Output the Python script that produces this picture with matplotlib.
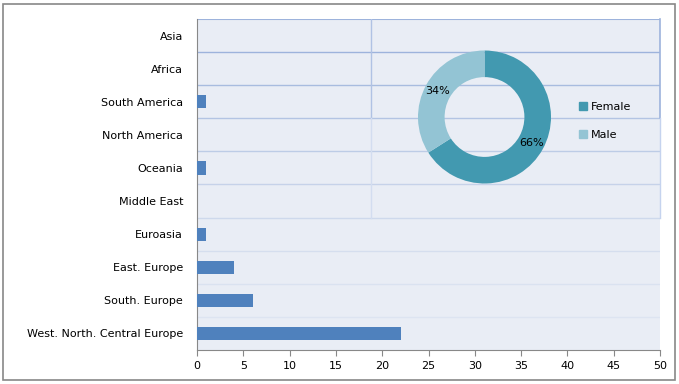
import numpy as np
import matplotlib.pyplot as plt
from matplotlib.patches import Rectangle

regions = ["West. North. Central Europe", "South. Europe", "East. Europe", "Euroasia",
           "Middle East", "Oceania", "North America", "South America", "Africa", "Asia"]
counts = [22, 6, 4, 1, 0, 1, 0, 1, 0, 0]

genders = ["Female", "Male"]
gender_share = [66, 34]
gender_colors = ["#4299b0", "#93c4d4"]

W, H = 679, 384
fig = plt.figure(figsize=(W / 100, H / 100), dpi=100)
fig.patch.set_facecolor("white")
fig.patches.append(Rectangle((3 / W, 4 / H), 672 / W, 376 / H, transform=fig.transFigure,
                             fill=False, edgecolor="#888888", linewidth=1.2))

def px_axes(x0, y0, x1, y1):
    # pixel box (top-left origin) -> figure fraction
    return [x0 / W, (H - y1) / H, (x1 - x0) / W, (y1 - y0) / H]

ax = fig.add_axes(px_axes(197, 19, 660, 350))
ax.set_facecolor("#e9edf5")
y = np.arange(len(regions))
ax.barh(y, counts, height=0.4, color="#4f81bd", zorder=3)
ax.set_xlim(0, 50)
ax.set_ylim(-0.5, len(regions) - 0.5)
ax.set_xticks(np.arange(0, 51, 5))
ax.set_yticks(y)
ax.set_yticklabels(regions)
ax.tick_params(axis="y", length=0, pad=10, labelsize=8)
ax.tick_params(axis="x", length=4, color="#888888", labelsize=8, pad=4)

# horizontal gridlines: strong at the top, fading towards the bottom
bounds = np.arange(0.5, len(regions) - 1, 1.0)
for i, b in enumerate(bounds):
    a = 0.15 + 0.85 * (i / (len(bounds) - 1)) ** 1.5
    ax.axhline(b, color="#9db3dc", alpha=a, linewidth=1.0, zorder=1)
ax.axhline(len(regions) - 0.5, color="#9db3dc", linewidth=1.5, zorder=1)

for s in ["top", "bottom", "left", "right"]:
    ax.spines[s].set_visible(False)
ax.spines["left"].set_visible(True)
ax.spines["left"].set_color("#888888")
ax.spines["bottom"].set_visible(True)
ax.spines["bottom"].set_color("#888888")

# overlay area of the donut chart (left and right borders)
ax.plot([18.8, 18.8], [6.5, len(regions) - 0.5], color="#b0c2e4", linewidth=1.0, zorder=2)
ax.plot([18.8, 18.8], [3.5, 6.5], color="#d3ddf0", linewidth=1.0, zorder=2)
ax.plot([50, 50], [6.5, len(regions) - 0.5], color="#9db3dc", linewidth=1.2, zorder=2, clip_on=False)
ax.plot([50, 50], [3.5, 6.5], color="#c5d3ee", linewidth=1.0, zorder=2, clip_on=False)

# donut
pax = fig.add_axes(px_axes(418, 50.5, 551, 183.5))
wedges, _, autotexts = pax.pie(gender_share, colors=gender_colors, startangle=90, counterclock=False,
                               radius=1.0, autopct="%d%%", pctdistance=0.8,
                               wedgeprops=dict(width=0.4, linewidth=0),
                               textprops=dict(fontsize=8, color="black"))
pax.set_xlim(-1, 1)
pax.set_ylim(-1, 1)
pax.set_aspect("equal")
pax.axis("off")

handles = [Rectangle((0, 0), 1, 1, color=c) for c in gender_colors]
fig.legend(handles, genders, loc="upper left", bbox_to_anchor=(569 / W, (H - 92) / H),
           frameon=False, fontsize=8, handlelength=0.7, handleheight=0.7,
           handletextpad=0.4, labelspacing=1.6)

fig.savefig("out.png", dpi=100)
